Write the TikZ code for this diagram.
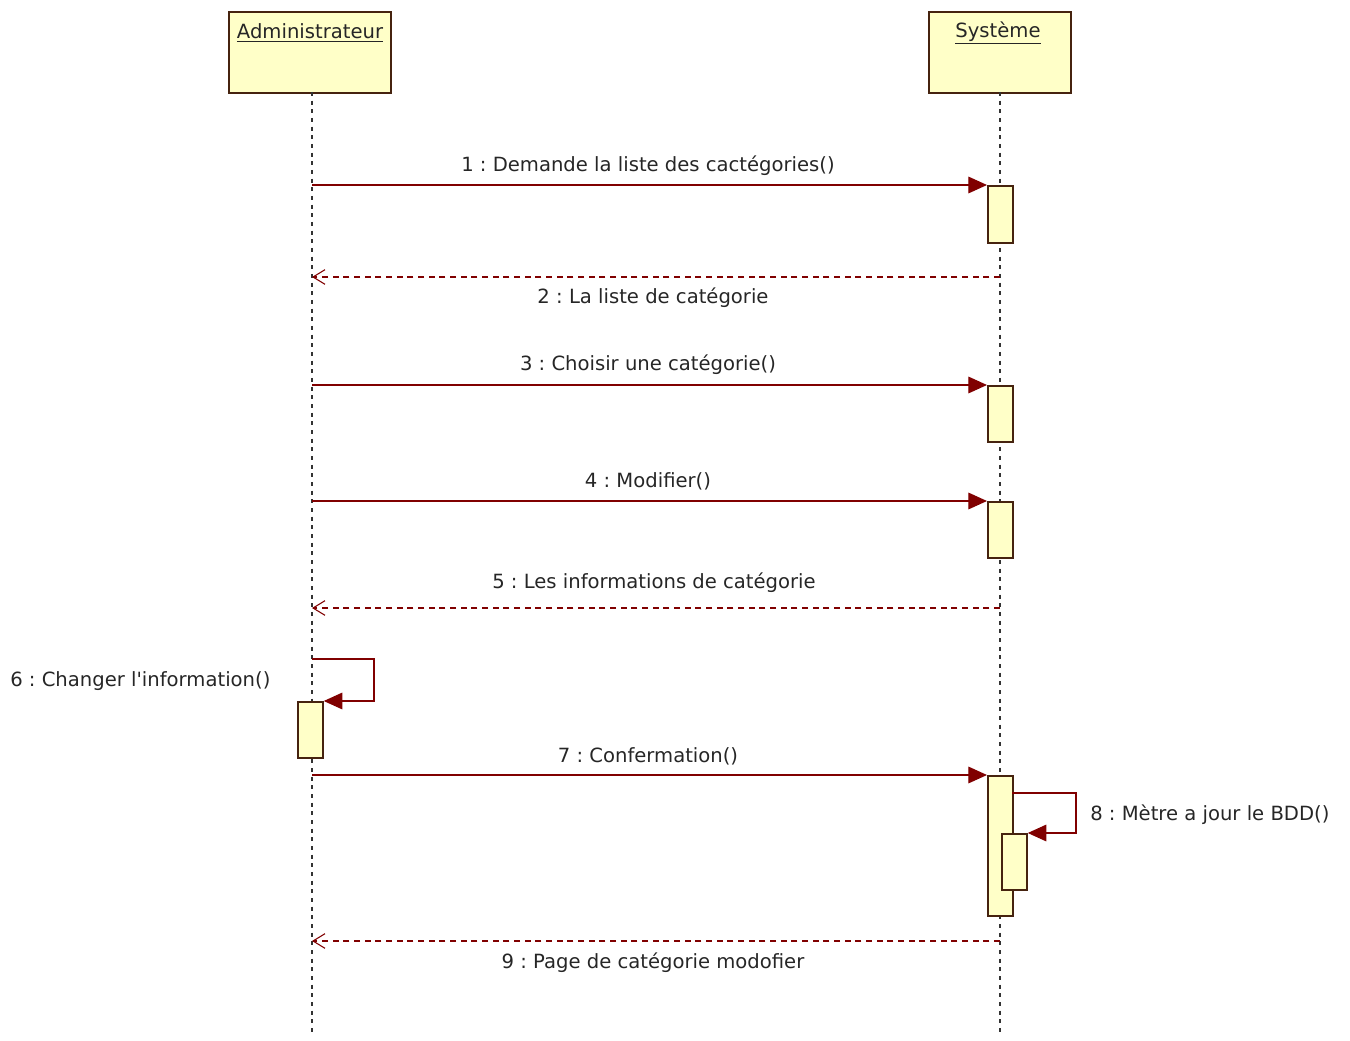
\documentclass[tikz,border=0pt]{standalone}
\usepackage{fontspec}
\setmainfont{DejaVu Sans}
\newfontfamily\lblfont{DejaVu Sans}
\usetikzlibrary{arrows.meta}
\definecolor{msgred}{RGB}{128,0,0}
\definecolor{boxfill}{RGB}{255,255,200}
\definecolor{boxline}{RGB}{70,35,15}
\frenchspacing
\tikzset{
  actor/.style={draw=boxline,fill=boxfill,line width=1.3pt,anchor=north west,minimum height=60.75pt,inner sep=0pt},
  actbar/.style={draw=boxline,fill=boxfill,line width=1.3pt,anchor=north west,minimum width=18.75pt,inner sep=0pt},
  lifeline/.style={draw=black!80,line width=0.9pt,dash pattern=on 3pt off 3.5pt},
  msg/.style={draw=msgred,line width=0.9pt,-{Triangle[length=14pt,width=12.5pt]}},
  ret/.style={draw=msgred,line width=0.9pt,dash pattern=on 4.5pt off 3.5pt,-{Straight Barb[length=9pt,width=11pt,line width=0.8pt]}},
  lbl/.style={font=\lblfont\fontsize{14.7pt}{16pt}\selectfont,inner sep=0pt,text=black!85},
}
\begin{document}
\begin{tikzpicture}[x=0.75pt,y=-0.75pt]
\useasboundingbox (0,0) rectangle (1350,1041);
% actors
\node[actor,minimum width=121.5pt] (adm) at (228,11) {};
\node[lbl] (admt) at (310,33) {\underline{Administrateur}};
\node[actor,minimum width=106.5pt] (sys) at (928,11) {};
\node[lbl] (syst) at (998,33) {\underline{Système}};
% lifelines
\coordinate (admend) at (312,1035);
\coordinate (sysend) at (1000,1035);
\draw[lifeline] (312,92) -- (admend);
\draw[lifeline] (1000,92) -- (sysend);
% activation bars
\node[actbar,minimum height=42.75pt] (a1) at (987,185) {};
\node[actbar,minimum height=42pt] (a3) at (987,385) {};
\node[actbar,minimum height=42pt] (a4) at (987,501) {};
\node[actbar,minimum height=42pt] (a6) at (297,701) {};
\node[actbar,minimum height=105pt] (a7) at (987,775) {};
\node[actbar,minimum height=42pt] (a8) at (1001,833) {};
% lifeline points
\coordinate (s1) at (312,185);
\coordinate (r2s) at (1000,277); \coordinate (r2e) at (312,277);
\coordinate (s3) at (312,385);
\coordinate (s4) at (312,501);
\coordinate (r5s) at (1000,608); \coordinate (r5e) at (312,608);
\coordinate (s6) at (312,659);
\coordinate (s7) at (312,775);
\coordinate (s8) at (1012,793);
\coordinate (r9s) at (1000,941); \coordinate (r9e) at (312,941);
% messages
\draw[msg] (s1) -- (a1.north west);
\node[lbl] (l1) at (648,166) {1 : Demande la liste des cactégories()};
\draw[ret] (r2s) -- (r2e);
\node[lbl] (l2) at (653,298) {2 : La liste de catégorie};
\draw[msg] (s3) -- (a3.north west);
\node[lbl] (l3) at (648,365) {3 : Choisir une catégorie()};
\draw[msg] (s4) -- (a4.north west);
\node[lbl] (l4) at (648,481) {4 : Modifier()};
\draw[ret] (r5s) -- (r5e);
\node[lbl] (l5) at (654,583) {5 : Les informations de catégorie};
\draw[msg] (s6) -- (374,659) -- (374,701) -- (a6.north east);
\node[lbl,anchor=west] (l6) at (10,681) {6 : Changer l'information()};
\draw[msg] (s7) -- (a7.north west);
\node[lbl] (l7) at (648,756) {7 : Confermation()};
\draw[msg] (s8) -- (1076,793) -- (1076,833) -- (a8.north east);
\node[lbl,anchor=west] (l8) at (1090,815) {8 : Mètre a jour le BDD()};
\draw[ret] (r9s) -- (r9e);
\node[lbl] (l9) at (653,963) {9 : Page de catégorie modofier};
\end{tikzpicture}
\end{document}
